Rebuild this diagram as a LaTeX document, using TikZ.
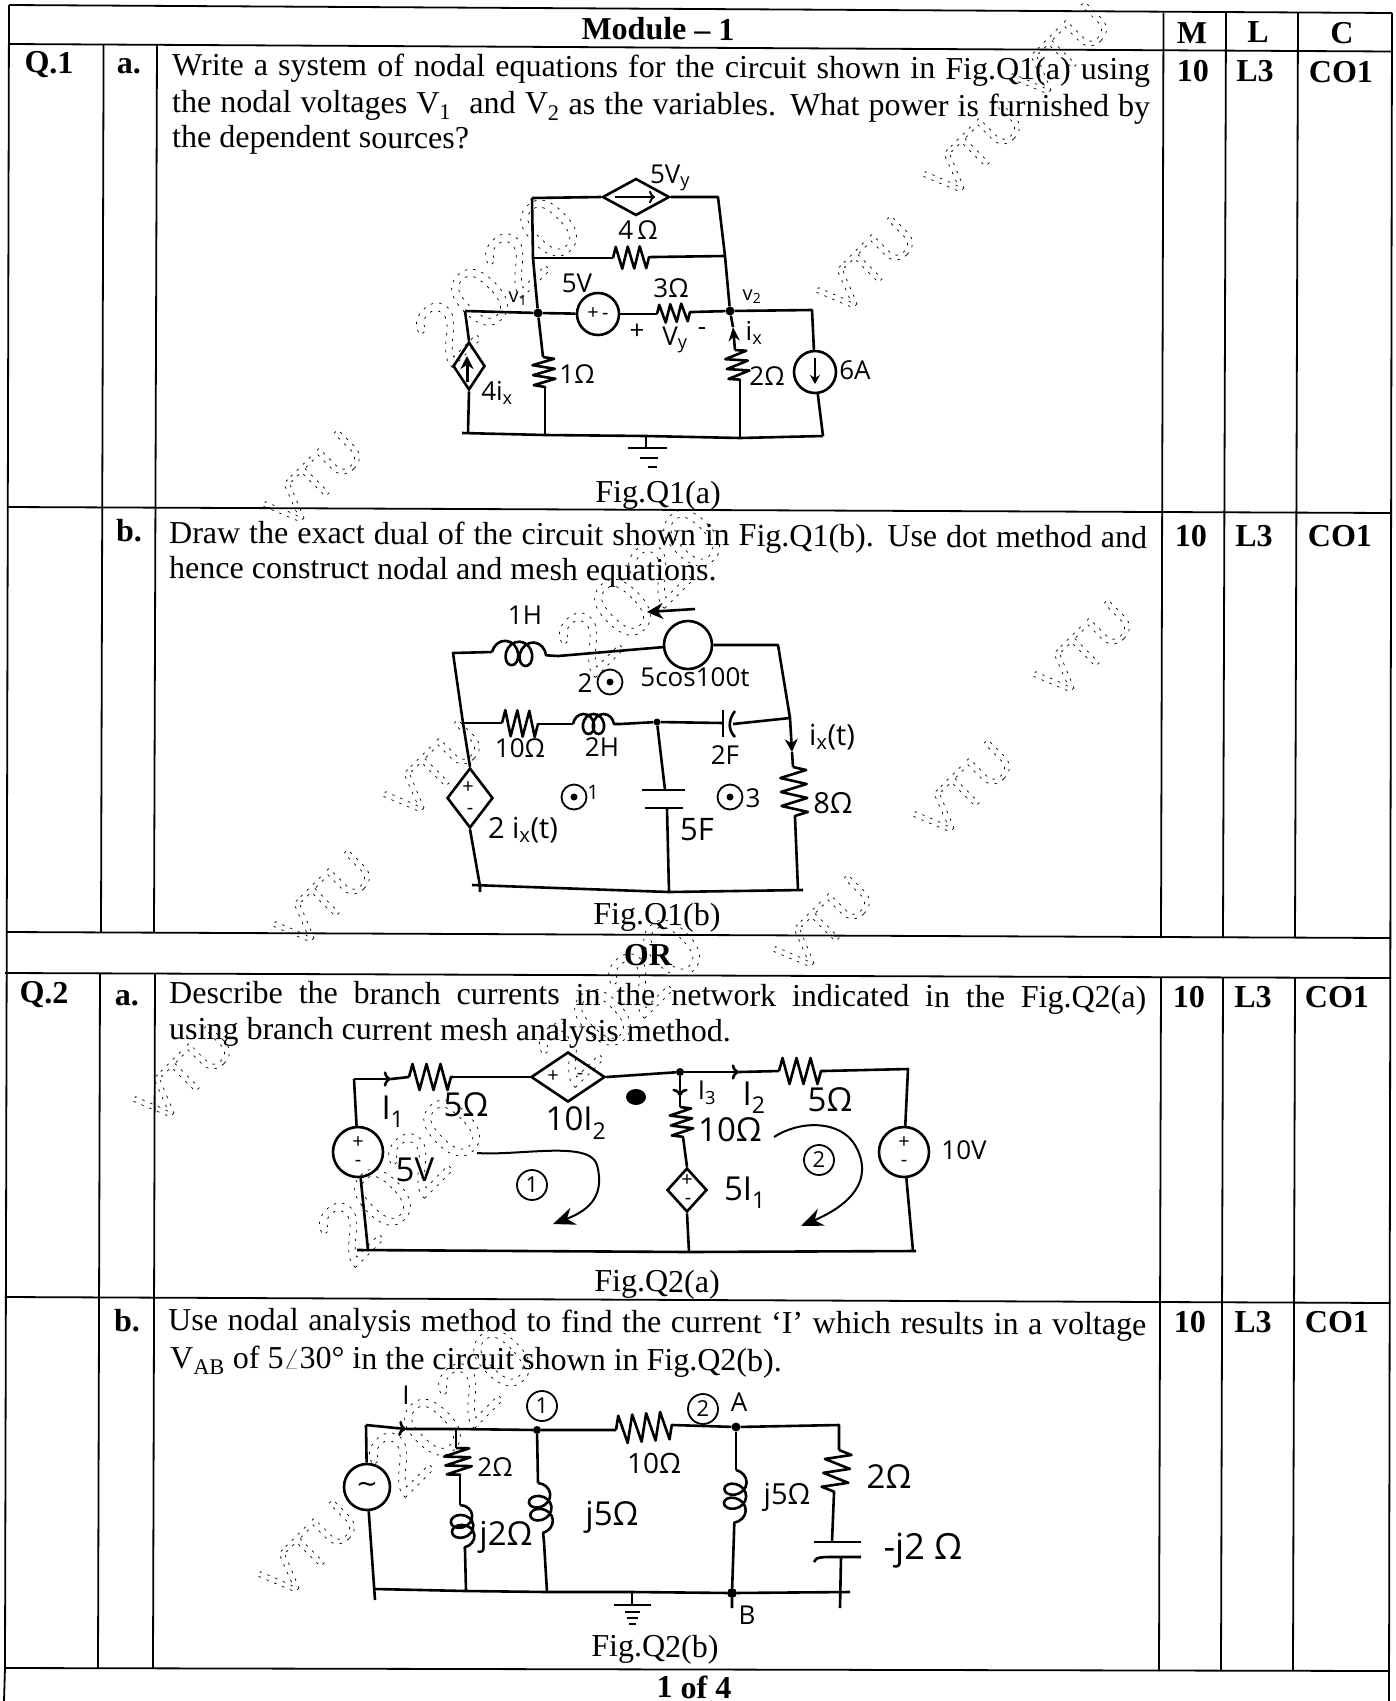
\documentclass[tikz,border=0pt]{standalone}
\usepackage{fontspec}
\setmainfont{Liberation Serif}
\newfontfamily\handfont{Open Sans}
\newfontfamily\wmfont{Liberation Sans}
\newfontfamily\symfont{DejaVu Sans}
\usetikzlibrary{shapes.geometric,arrows.meta,decorations.pathmorphing}
\newcommand{\wmk}[1]{\special{pdf:code 1 Tr 0.7 w [2.5 6] 0 d}#1\special{pdf:code 0 Tr [] 0 d}}
\tikzset{
  rule/.style={line width=1.8pt},
  txt/.style={anchor=base west,inner sep=0pt,rotate=-0.3,font=\fontsize{32}{36}\selectfont},
  fig/.style={anchor=base,inner sep=0pt,rotate=-0.3,font=\fontsize{32}{36}\selectfont},
  hd/.style={anchor=center,inner sep=0pt,rotate=-0.3,font=\bfseries\fontsize{32}{36}\selectfont},
  hand/.style={inner sep=0pt,font=\handfont\fontsize{26}{28}\selectfont},
  big hand/.style={inner sep=0pt,font=\handfont\fontsize{33}{35}\selectfont},
  small hand/.style={inner sep=0pt,font=\handfont\fontsize{20}{22}\selectfont},
  wire/.style={line width=2.6pt,line join=round},
  res/.style={wire,decorate,decoration={zigzag,segment length=12,amplitude=11}},
  ind/.style={wire,decorate,decoration={coil,aspect=0.8,segment length=12,amplitude=11}},
  diam/.style={diamond,draw,line width=2.6pt,inner sep=0pt},
  src/.style={circle,draw,line width=2.6pt,inner sep=0pt,minimum size=46},
  junc/.style={circle,fill,inner sep=0pt,minimum size=9},
  mesh/.style={circle,draw,line width=1.8pt,inner sep=0pt,minimum size=25,
    path picture={\fill (path picture bounding box.center) circle (3.5);}},
  ring/.style={circle,draw,line width=1.8pt,inner sep=0pt,minimum size=30,font=\handfont\fontsize{22}{24}\selectfont},
  wm/.style={inner sep=0pt,rotate=45,font=\wmfont\fontsize{56}{60}\selectfont},
  wmy/.style={wm,font=\wmfont\fontsize{88}{92}\selectfont},
}
\begin{document}
\begin{tikzpicture}[x=1pt,y=-1pt]
\useasboundingbox (0,0) rectangle (1396,1701);
% watermark
\node[wm] (w1) at (315,480) {\wmk{VTU}};
\node[wmy] (w2) at (497,280) {\wmk{2020}};
\node[wm] (w3) at (868,266) {\wmk{VTU}};
\node[wm] (w4) at (975,150) {\wmk{VTU}};
\node[wm] (w5) at (1062,52) {\wmk{VTU}};
\node[wm] (w6) at (325,900) {\wmk{VTU}};
\node[wm] (w7) at (435,770) {\wmk{VTU}};
\node[wmy] (w8) at (640,590) {\wmk{2020}};
\node[wm] (w9) at (825,925) {\wmk{VTU}};
\node[wm] (w10) at (965,790) {\wmk{VTU}};
\node[wm] (w11) at (1085,650) {\wmk{VTU}};
\node[wm] (w12) at (185,1075) {\wmk{VTU}};
\node[wmy] (w13) at (400,1180) {\wmk{2020}};
\node[wmy] (w14) at (620,1000) {\wmk{2020}};
\node[wm] (w15) at (310,1550) {\wmk{VTU}};
\node[wmy] (w16) at (450,1410) {\wmk{2020}};

% table rules
\draw[rule] (9,5) -- (1392,13);
\draw[rule] (8,44) -- (1392,51.5);
\draw[rule] (7,507) -- (1391,513);
\draw[rule] (6,932) -- (1391,938);
\draw[rule] (5,973) -- (1391,978);
\draw[rule] (5,1297) -- (1390,1303);
\draw[rule] (5,1668) -- (1390,1671);
\draw[rule] (9,5) -- (5,1668) -- (4,1701);
\draw[rule] (1392,13) -- (1389,1701);
\draw[rule] (103.6,44) -- (101,932);
\draw[rule] (100,973) -- (98,1668);
\draw[rule] (157,44) -- (154,932);
\draw[rule] (155,973) -- (153,1668);
\draw[rule] (1163.5,13) -- (1161,938);
\draw[rule] (1161,977) -- (1159,1671);
\draw[rule] (1226,13) -- (1223,938);
\draw[rule] (1223,977) -- (1221,1671);
\draw[rule] (1298,13) -- (1295,938);
\draw[rule] (1295,977) -- (1293,1671);

% headings
\node[hd] (module) at (658,29) {Module -- 1};
\node[hd] (hm) at (1192,33) {M};
\node[hd] (hl) at (1258,32) {L};
\node[hd] (hc) at (1342,33) {C};
\node[hd] (or) at (648,955) {OR};
\node[hd] (page) at (694,1687) {1 of 4};
\node[hd] (q1) at (49,65) {Q.1};
\node[hd] (q2) at (44,995) {Q.2};
\node[hd] (q1a) at (129,66) {a.};
\node[hd] (q1b) at (129,531) {b.};
\node[hd] (q2a) at (127,998) {a.};
\node[hd] (q2b) at (127,1321) {b.};
\node[hd] (m1) at (1193,71) {10};
\node[hd] (l1) at (1255,71) {L3};
\node[hd] (c1) at (1341,72) {CO1};
\node[hd] (m2) at (1191,536) {10};
\node[hd] (l2) at (1254,536) {L3};
\node[hd] (c2) at (1340,536) {CO1};
\node[hd] (m3) at (1189,997) {10};
\node[hd] (l3) at (1253,997) {L3};
\node[hd] (c3) at (1337,997) {CO1};
\node[hd] (m4) at (1190,1322) {10};
\node[hd] (l4) at (1253,1322) {L3};
\node[hd] (c4) at (1337,1322) {CO1};

% question text
\node[txt] (t1) at (172,75) {\makebox[978pt][s]{Write a system of nodal equations for the circuit shown in Fig.Q1(a) using}};
\node[txt] (t2) at (172,112) {\makebox[978pt][s]{the nodal voltages V\textsubscript{1}\ \ and V\textsubscript{2} as the variables. What power is furnished by}};
\node[txt] (t3) at (172,147) {the dependent sources?};
\node[txt] (t4) at (169,543) {\makebox[978pt][s]{Draw the exact dual of the circuit shown in Fig.Q1(b). Use dot method and}};
\node[txt] (t5) at (169,578) {hence construct nodal and mesh equations.};
\node[txt] (t6) at (169,1003) {\makebox[977pt][s]{Describe the branch currents in the network indicated in the Fig.Q2(a)}};
\node[txt] (t7) at (169,1039) {using branch current mesh analysis method.};
\node[txt] (t8) at (168,1330) {\makebox[978pt][s]{Use nodal analysis method to find the current `I' which results in a voltage}};
\node[txt] (t9) at (170,1368) {V\textsubscript{AB} of 5$\angle$30° in the circuit shown in Fig.Q2(b).};
\node[fig] (f1) at (658,503) {Fig.Q1(a)};
\node[fig] (f2) at (657,925) {Fig.Q1(b)};
\node[fig] (f3) at (657,1292) {Fig.Q2(a)};
\node[fig] (f4) at (655,1657) {Fig.Q2(b)};

% Fig Q1(a) nodes
\node[junc] (av1) at (538,313) {};
\node[junc] (av2) at (730,311) {};
\node[diam,minimum width=67,minimum height=37] (ad5) at (636,197) {};
\node[diam,minimum width=32,minimum height=48] (ad4) at (469,366) {};
\node[src,minimum size=42,font=\handfont\fontsize{20}{22}\selectfont] (as5) at (598,314) {+\,-};
\node[src,minimum size=42] (as6) at (815,372) {};
\coordinate (atl) at (532,198);
\coordinate (atr) at (718,197);
\coordinate (ar4l) at (533,258);
\coordinate (ar4r) at (725,256);
\coordinate (ax4a) at (613,258);
\coordinate (ax4b) at (653,257);
\coordinate (ax3a) at (657,314);
\coordinate (ax3b) at (692,312);
\coordinate (afl) at (465,311);
\coordinate (afr) at (812,310);
\coordinate (abl) at (462,433);
\coordinate (abl2) at (468,433);
\coordinate (abr) at (823,436);
\coordinate (ax1a) at (543,357);
\coordinate (ax1b) at (545,388);
\coordinate (ab1) at (545,435);
\coordinate (ax2a) at (735,350);
\coordinate (ax2b) at (740,381);
\coordinate (ab2) at (740,438);
\coordinate (agn) at (646,436);
\coordinate (agb) at (646,448);
% Fig Q1(a) wires
\draw[wire] (atl) -- (ad5.west);
\draw[wire] (ad5.east) -- (atr) -- (ar4r) -- (av2);
\draw[wire] (atl) -- (ar4l) -- (av1);
\draw[wire] (ar4l) -- (ax4a);
\draw[res] (ax4a) -- (ax4b);
\draw[wire] (ax4b) -- (ar4r);
\draw[wire] (afl) -- (av1) -- (as5);
\draw[wire] (as5) -- (ax3a);
\draw[res,decoration={segment length=11,amplitude=9}] (ax3a) -- (ax3b);
\draw[wire] (ax3b) -- (av2) -- (afr) -- (as6);
\draw[wire] (as6) -- (abr);
\draw[wire] (afl) -- (ad4.north);
\draw[wire] (ad4.south) -- (abl2);
\draw[wire] (abl) -- (ab1) -- (agn) -- (ab2) -- (abr);
\draw[wire] (av1) -- (ax1a);
\draw[res,decoration={segment length=10,amplitude=11}] (ax1a) -- (ax1b);
\draw[wire] (ax1b) -- (ab1);
\draw[wire,-{Stealth[length=14pt,width=11pt]}] (ax2a) -- (733,327);
\draw[wire] (733,327) -- (av2);
\draw[res,decoration={segment length=10,amplitude=11}] (ax2a) -- (ax2b);
\draw[wire] (ax2b) -- (ab2);
\draw[wire] (agn) -- (agb);
\draw[wire] (628,448) -- (667,448);
\draw[wire] (640,458) -- (658,458);
\draw[wire] (648,467) -- (657,467);
\draw[line width=2pt,->] (615,197) -- (655,197);
\draw[line width=3pt,-{Stealth[length=13pt,width=13pt]}] (467,382) -- (467,356);
\draw[line width=2pt,-{Stealth[length=9pt,width=10pt]}] (815,358) -- (815,384);
% Fig Q1(a) labels
\node[hand] (a5vy) at (670,178) {5V\textsubscript{y}};
\node[hand] (a4o) at (638,230) {4$\,$Ω};
\node[hand] (a5v) at (577,283) {5V};
\node[hand] (a3o) at (671,288) {3Ω};
\node[small hand] (av1l) at (518,299) {v\textsubscript{1}};
\node[small hand] (av2l) at (752,297) {v\textsubscript{2}};
\node[hand] (ap) at (637,332) {+};
\node[hand] (avy) at (675,340) {V\textsubscript{y}};
\node[hand] (am) at (702,332) {-};
\node[hand] (aix) at (754,333) {i\textsubscript{x}};
\node[hand] (a1o) at (577,374) {1Ω};
\node[hand] (a2o) at (767,376) {2Ω};
\node[hand] (a6a) at (855,370) {6A};
\node[hand] (a4i) at (497,393) {4i\textsubscript{x}};

% Fig Q1(b) nodes
\node[src,minimum size=48] (bs) at (688,645) {};
\node[junc,minimum size=7] (bn) at (657,722) {};
\node[diam,minimum width=46,minimum height=60] (bd) at (470,798) {};
\node[mesh] (bm2) at (610,682) {};
\node[mesh] (bm1) at (574,797) {};
\node[mesh] (bm3) at (730,797) {};
\coordinate (btl) at (453,653);
\coordinate (bla) at (492,652);
\coordinate (blb) at (558,656);
\coordinate (btr) at (778,645);
\coordinate (bmr) at (790,718);
\coordinate (bml) at (463,723);
\coordinate (bxa) at (502,723);
\coordinate (bxb) at (538,724);
\coordinate (bha) at (573,724);
\coordinate (bhb) at (620,724);
\coordinate (bpa) at (723,723);
\coordinate (bpb) at (733,724);
\coordinate (bra) at (793,767);
\coordinate (brb) at (795,817);
\coordinate (bbr) at (803,890);
\coordinate (bbr2) at (798,890);
\coordinate (bbl) at (472,885);
\coordinate (bbl2) at (480,886);
\coordinate (bca) at (665,790);
\coordinate (bcb) at (667,808);
\coordinate (bbm) at (669,892);
% Fig Q1(b) wires
\draw[wire] (bml) -- (btl) -- (bla);
\draw[ind,decoration={segment length=14,amplitude=12}] (bla) -- (blb);
\draw[wire] (blb) -- (bs);
\draw[wire] (bs) -- (btr) -- (bmr);
\draw[wire] (bml) -- (bxa);
\draw[res,decoration={segment length=12,amplitude=13}] (bxa) -- (bxb);
\draw[wire] (bxb) -- (bha);
\draw[ind,decoration={segment length=10,amplitude=10}] (bha) -- (bhb);
\draw[wire] (bhb) -- (bn) -- (bpa);
\draw[wire] (bpb) -- (bmr);
\draw[wire] (723,710) -- (723,737);
\draw[wire] (735,711) .. controls (728,720) and (728,730) .. (735,737);
\draw[wire,-{Stealth[length=13pt,width=13pt]}] (bmr) -- (792,752);
\draw[wire] (792,752) -- (bra);
\draw[res,decoration={segment length=14,amplitude=13}] (bra) -- (brb);
\draw[wire] (brb) -- (bbr2);
\draw[wire] (bml) -- (bd.north);
\draw[wire] (bd.south) -- (bbl2) -- (480,892);
\draw[wire] (bbl) -- (bbm) -- (bbr);
\draw[wire] (bn) -- (bca);
\draw[wire] (642,790) -- (685,790);
\draw[wire] (645,808) -- (683,808);
\draw[wire] (bcb) -- (bbm);
\draw[line width=2.6pt,-{Stealth[length=16pt,width=16pt]}] (695,609) -- (647,612);
% Fig Q1(b) labels
\node[hand] (b1h) at (525,615) {1H};
\node[hand] (b2l) at (585,683) {2};
\node[hand] (bcos) at (695,677) {5cos100t};
\node[hand] (b10) at (520,748) {10Ω};
\node[hand] (b2h) at (602,747) {2H};
\node[hand] (b2f) at (725,755) {2F};
\node[hand,font=\handfont\fontsize{29}{30}\selectfont] (bix) at (832,737) {i\textsubscript{x}(t)};
\node[hand,font=\handfont\fontsize{29}{30}\selectfont] (b8) at (833,803) {8Ω};
\node[small hand] (b1l) at (593,792) {1};
\node[hand,font=\handfont\fontsize{29}{30}\selectfont] (b2i) at (523,830) {2 i\textsubscript{x}(t)};
\node[hand] (b3l) at (753,798) {3};
\node[hand,font=\handfont\fontsize{31}{33}\selectfont] (b5f) at (697,830) {5F};
\node[small hand] (bdp) at (468,788) {+};
\node[small hand] (bdm) at (470,811) {-};

% Fig Q2(a) nodes
\node[junc,minimum size=8] (cn) at (680,1072) {};
\node[src,minimum size=50,font=\handfont\fontsize{20}{22}\selectfont,align=center] (cs5) at (358,1152) {+\\[-4pt]-};
\node[src,minimum size=50,font=\handfont\fontsize{20}{22}\selectfont,align=center] (cs10) at (904,1152) {+\\[-4pt]-};
\node[diam,minimum width=74,minimum height=50] (cd10) at (568,1077) {};
\node[diam,minimum width=40,minimum height=44] (cd5) at (687,1190) {};
\node[ring] (cr1) at (532,1185) {1};
\node[ring] (cr2) at (819,1160) {2};
\coordinate (ctl) at (354,1079);
\coordinate (car) at (391,1079);
\coordinate (cxa) at (409,1077);
\coordinate (cxb) at (453,1077);
\coordinate (cty) at (739,1072);
\coordinate (cya) at (779,1071);
\coordinate (cyb) at (823,1071);
\coordinate (ctr) at (908,1069);
\coordinate (cza) at (680,1107);
\coordinate (czb) at (683,1137);
\coordinate (cmd) at (680,1096);
\coordinate (cbl) at (357,1250);
\coordinate (cbl2) at (368,1250);
\coordinate (cbm) at (689,1252);
\coordinate (cbr) at (916,1251);
\coordinate (cbr2) at (913,1251);
% Fig Q2(a) wires
\draw[wire] (ctl) -- (cs5);
\draw[wire] (cs5) -- (cbl2);
\draw[wire,->] (ctl) -- (car);
\draw[wire] (car) -- (cxa);
\draw[res,decoration={segment length=14,amplitude=13}] (cxa) -- (cxb);
\draw[wire] (cxb) -- (cd10.west);
\draw[wire] (cd10.east) -- (cn);
\draw[wire,->] (cn) -- (cty);
\draw[wire] (cty) -- (cya);
\draw[res,decoration={segment length=14,amplitude=13}] (cya) -- (cyb);
\draw[wire] (cyb) -- (ctr) -- (cs10);
\draw[wire] (cs10) -- (cbr2);
\draw[wire,->] (cn) -- (cmd);
\draw[wire] (cmd) -- (cza);
\draw[res,decoration={segment length=10,amplitude=11}] (cza) -- (czb);
\draw[wire] (czb) -- (cd5.north);
\draw[wire] (cd5.south) -- (cbm);
\draw[wire] (cbl) -- (cbm) -- (cbr);
\draw[line width=2pt,-{Stealth[length=22pt,width=18pt]}] (477,1153) .. controls (520,1156) and (590,1140) .. (597,1165) .. controls (605,1195) and (590,1210) .. (553,1224);
\draw[line width=2pt,-{Stealth[length=22pt,width=18pt]}] (774,1137) .. controls (800,1120) and (840,1120) .. (855,1145) .. controls (875,1180) and (850,1205) .. (801,1226);
\fill (636,1097) ellipse (10 and 8);
% Fig Q2(a) labels
\node[small hand] (cdp) at (553,1077) {+};
\node[small hand] (cdm) at (580,1076) {-};
\node[small hand] (c5p) at (687,1181) {+};
\node[small hand] (c5m) at (688,1201) {-};
\node[big hand] (ci1) at (393,1112) {I\textsubscript{1}};
\node[big hand] (c5a) at (466,1105) {5Ω};
\node[big hand] (c10i) at (576,1123) {10I\textsubscript{2}};
\node[hand] (ci3) at (707,1093) {I\textsubscript{3}};
\node[big hand] (ci2) at (754,1098) {I\textsubscript{2}};
\node[big hand] (c5b) at (830,1100) {5Ω};
\node[big hand] (c10o) at (730,1130) {10Ω};
\node[big hand] (c5v) at (415,1170) {5V};
\node[hand] (c10v) at (964,1150) {10V};
\node[big hand] (c5i) at (745,1193) {5I\textsubscript{1}};

% Fig Q2(b) nodes
\node[src,minimum size=46,font=\symfont\fontsize{26}{28}\selectfont] (ds) at (367,1487) {∼};
\node[junc,minimum size=8] (dn1) at (537,1430) {};
\node[junc,minimum size=9] (dna) at (736,1427) {};
\node[junc,minimum size=10] (dnb) at (732,1593) {};
\node[ring] (dr1) at (542,1406) {1};
\node[ring] (dr2) at (703,1409) {2};
\coordinate (dtl) at (366,1425);
\coordinate (dar) at (406,1429);
\coordinate (dj) at (456,1429);
\coordinate (dxa) at (456,1448);
\coordinate (dxb) at (460,1475);
\coordinate (dla) at (460,1505);
\coordinate (dlb) at (465,1550);
\coordinate (dbj) at (466,1591);
\coordinate (dma) at (538,1483);
\coordinate (dmb) at (544,1542);
\coordinate (dbm) at (547,1592);
\coordinate (dra) at (616,1430);
\coordinate (drb) at (672,1425);
\coordinate (dna2) at (736,1470);
\coordinate (dnb2) at (734,1533);
\coordinate (dtr) at (839,1425);
\coordinate (dya) at (839,1450);
\coordinate (dyb) at (834,1493);
\coordinate (dcp) at (832,1542);
\coordinate (dcq) at (841,1557);
\coordinate (drt) at (840,1608);
\coordinate (dbl) at (375,1589);
\coordinate (dbl2) at (375,1600);
\coordinate (dbr) at (850,1592);
\coordinate (dgn) at (632,1592);
\coordinate (dgb) at (632,1605);
\coordinate (dtb) at (732,1608);
% Fig Q2(b) wires
\draw[wire] (dtl) -- (ds);
\draw[wire] (ds) -- (dbl2);
\draw[wire,->] (dtl) -- (dar);
\draw[wire] (dar) -- (dj) -- (dn1) -- (dra);
\draw[res,decoration={segment length=14,amplitude=14}] (dra) -- (drb);
\draw[wire] (drb) -- (dna) -- (dtr) -- (dya);
\draw[res,decoration={segment length=14,amplitude=13}] (dya) -- (dyb);
\draw[wire] (dyb) -- (dcp);
\draw[wire] (814,1542) -- (861,1542);
\draw[wire] (814,1562) .. controls (816,1556) and (820,1557) .. (861,1557);
\draw[wire] (dcq) -- (drt);
\draw[wire] (dj) -- (dxa);
\draw[res,decoration={segment length=9,amplitude=13}] (dxa) -- (dxb);
\draw[wire] (dxb) -- (dla);
\draw[ind,decoration={segment length=10}] (dla) -- (dlb);
\draw[wire] (dlb) -- (dbj);
\draw[wire] (dn1) -- (dma);
\draw[ind,decoration={segment length=13}] (dma) -- (dmb);
\draw[wire] (dmb) -- (dbm);
\draw[wire] (dna) -- (dna2);
\draw[ind,decoration={segment length=14}] (dna2) -- (dnb2);
\draw[wire] (dnb2) -- (dnb) -- (dtb);
\draw[wire] (dbl) -- (dbj) -- (dbm) -- (dgn) -- (dnb) -- (dbr);
\draw[wire] (dgn) -- (dgb);
\draw[wire] (614,1605) -- (651,1605);
\draw[wire] (625,1612) -- (640,1612);
\draw[wire] (627,1618) -- (638,1618);
\draw[wire] (629,1624) -- (636,1624);
% Fig Q2(b) labels
\node[hand] (di) at (406,1395) {I};
\node[hand] (dal) at (739,1402) {A};
\node[hand] (d2a) at (495,1467) {2Ω};
\node[hand,font=\handfont\fontsize{28}{30}\selectfont] (d10) at (654,1463) {10Ω};
\node[big hand] (dj2) at (506,1537) {j2Ω};
\node[big hand] (dj5) at (612,1517) {j5Ω};
\node[hand,font=\handfont\fontsize{29}{31}\selectfont] (dj5b) at (787,1497) {j5Ω};
\node[big hand] (d2b) at (889,1477) {2Ω};
\node[hand,font=\handfont\fontsize{36}{38}\selectfont] (dmj) at (923,1551) {-j2 Ω};
\node[hand] (dbl3) at (747,1615) {B};
\end{tikzpicture}
\end{document}
